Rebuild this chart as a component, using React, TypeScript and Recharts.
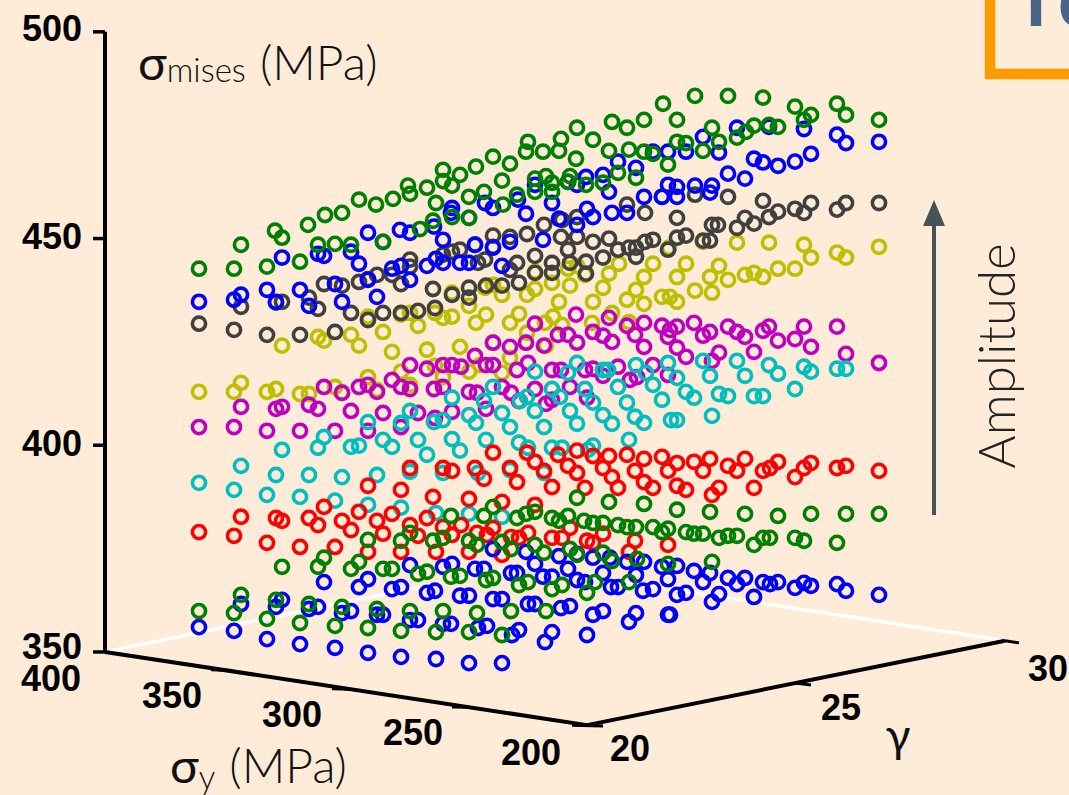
import React from 'react';
import { ScatterChart, Scatter, XAxis, YAxis, ReferenceLine } from 'recharts';

type Pt = [number, number];

// [horizontal position in the projected view, sigma_mises in MPa]
const olivePts: Pt[] = [[199,412.9],[234,412.9],[241,415.1],[267,412.9],[276,413.6],[282,424.1],[300,412.4],[309,412.4],[318,426.2],[324,425.3],[335,414.1],[342,412.7],[351,426.7],[359,424.1],[368,431.1],[368,416.5],[377,413.4],[383,427.4],[392,422.6],[401,417.8],[401,431.6],[410,432],[410,414.6],[418,428.9],[427,423.1],[435,419.2],[443,416.5],[460,423.8],[469,417.8],[480,419.4],[493,424.8],[510,421.1],[502,417.5],[526,424.8],[546,424.1],[435,432],[443,430.8],[452,431.1],[452,436.9],[469,433.7],[476,429.6],[486,431.6],[485,438.1],[493,438.8],[502,436.4],[510,429.6],[519,431.8],[527,436.4],[535,437.8],[535,442],[527,427.2],[545,429.6],[553,431.1],[552,439.3],[559,434.7],[562,429.1],[570,438.6],[568,442.7],[577,443.4],[585,441.2],[593,434.7],[592,429.6],[603,438.1],[609,441.5],[612,432],[619,443.9],[627,435.2],[629,429.8],[636,437.6],[644,434.2],[644,440.7],[653,443.9],[662,435.9],[669,447.8],[686,443.9],[677,440.7],[703,449.2],[710,440.7],[719,443.4],[728,440],[737,449],[745,441.2],[754,441.7],[763,440.7],[769,449],[778,442.7],[795,442.7],[804,448.5],[811,445.4],[837,446.6],[846,445.4],[879,448],[695,437.4],[712,436.9],[670,435.9],[677,434.7]];
const magentaPts: Pt[] = [[199,404.4],[234,404.4],[241,409.3],[267,403.5],[276,408.8],[282,409.3],[300,403.5],[309,409.8],[318,408.8],[324,414.1],[335,403.5],[342,412.7],[351,408.3],[359,414.1],[368,414.6],[368,403.5],[377,412.9],[383,407.8],[392,415.8],[401,414.1],[401,404.4],[410,413.6],[410,419.4],[418,407.8],[427,418.5],[434,413.6],[443,419.4],[452,419.4],[443,414.1],[461,419],[452,408.1],[469,412.9],[477,412.7],[475,421.6],[486,419.4],[493,419.4],[486,408.8],[493,424.8],[502,414.1],[511,412.7],[510,423.8],[517,418.2],[519,410.7],[526,424.8],[528,419.9],[535,413.6],[544,424.1],[546,410],[552,411],[552,418.2],[561,418.2],[558,426.7],[570,414.1],[577,424.8],[568,426.7],[585,418.2],[587,411.5],[593,418.5],[603,416.8],[593,427.4],[603,426.5],[612,425],[618,419],[630,415.8],[637,416.5],[635,426.7],[644,423.8],[653,419.4],[668,426.2],[668,417],[435,406.6],[535,429.4],[576,431.6],[609,430.8],[627,428.9],[644,429.6],[662,428.9],[670,427.9],[677,428.7],[694,429.6],[703,426.5],[710,427.4],[677,423.6],[686,421.4],[719,422.4],[712,420.4],[728,428.7],[737,427.4],[745,426.2],[754,422.6],[763,427.7],[769,428.7],[778,425.3],[795,425.7],[804,428.7],[811,423.8],[837,428.7],[846,422.1],[879,419.9]];
const cyanPts: Pt[] = [[199,390.9],[234,389.2],[241,395],[267,388],[276,392.8],[282,398.9],[300,387.5],[309,392.8],[318,399.4],[324,402],[335,386.6],[342,392.3],[351,399.6],[359,399.9],[368,385.6],[377,392.8],[383,401.3],[392,399.6],[401,384.9],[410,393.6],[418,401.3],[427,397.7],[368,405.6],[401,405.4],[410,408.3],[452,411.5],[443,406.1],[434,405.6],[452,401.5],[460,398.7],[469,407.3],[476,405.4],[484,410.7],[493,414.1],[486,401.3],[502,407.8],[510,404.4],[510,394],[478,393.3],[443,393.3],[519,400.6],[528,399.4],[520,410.7],[527,411.7],[535,417.8],[535,408.3],[544,404.4],[544,393.3],[552,399.4],[562,399.4],[552,413.6],[560,411.7],[568,417.5],[570,408.3],[577,419.9],[577,405.2],[585,413.6],[588,398.9],[593,399.9],[593,410.3],[603,418.2],[603,407.3],[612,405.2],[608,418.2],[618,414.1],[627,410.3],[629,401.3],[635,406.9],[636,419.4],[644,405.4],[646,417.5],[653,414.6],[662,411],[668,419.9],[436,383.6],[469,383.4],[502,382.7],[677,416.3],[686,412.9],[694,411.5],[703,420.4],[710,416.8],[719,412.4],[728,411.9],[737,420.4],[745,416.8],[754,411.9],[763,411.9],[769,419.4],[778,417.3],[795,413.6],[804,419],[811,417.8],[837,418.5],[846,418.5],[671,406.1],[677,406.1],[712,407.1]];
const redPts: Pt[] = [[199,379],[234,378.1],[241,382.7],[267,376.4],[276,382.4],[282,381.7],[300,375.4],[309,382.4],[318,380.7],[324,385.1],[335,375.4],[342,381.7],[351,379.5],[359,383.9],[368,374.2],[368,390.2],[377,381.7],[383,378.6],[392,383.4],[401,389.2],[401,374.2],[410,394.5],[410,380.7],[418,378.1],[427,382.4],[493,398.2],[527,398.2],[535,396],[544,393.8],[552,389.9],[558,397.7],[577,398.7],[568,395],[577,393.3],[585,389.7],[593,397.4],[609,397.4],[603,394.5],[612,392.3],[618,389.7],[627,397.7],[644,396.7],[635,393.8],[644,391.1],[653,389.7],[662,397.2],[668,393.8],[443,394.5],[452,393.8],[475,394.5],[484,391.9],[510,394.5],[517,391.1],[433,387.5],[469,387],[502,386.3],[535,385.6],[443,380.2],[461,380.7],[452,378.3],[436,374.2],[469,374.2],[477,378.8],[487,378.3],[493,380],[502,373.5],[511,377.8],[519,377.6],[528,378.8],[552,377.6],[562,377.6],[570,380],[587,376.9],[593,376.4],[603,378.6],[629,374.2],[635,376.9],[668,375.9],[677,395.7],[694,396],[703,393.8],[710,396.7],[728,395],[737,393.8],[745,396.7],[763,393.8],[770,394.5],[778,396],[795,392.3],[804,394.5],[811,395.7],[837,394.5],[846,395],[879,393.8],[677,390.2],[686,389.2],[712,388],[719,389.7],[754,389.7]];
const blueLowPts: Pt[] = [[199,356],[234,355.1],[241,361.6],[267,353.1],[276,360.9],[282,362.6],[300,351.9],[309,360.4],[318,360.9],[324,366.9],[335,351],[342,359.4],[351,359.9],[359,365.7],[368,367.6],[368,349.8],[377,359],[383,359],[392,365.2],[401,365.7],[401,348.8],[410,357.7],[410,371],[418,357.7],[427,364.3],[436,348.3],[469,347.3],[502,347.3],[545,352.4],[552,354.8],[587,354.1],[512,354.1],[519,355.3],[478,355.8],[487,356.3],[443,356.8],[451,356.8],[593,359],[603,359.9],[629,357.3],[636,359.4],[668,359],[561,360.6],[570,361.1],[528,361.6],[535,361.6],[493,362.8],[502,362.8],[460,363.6],[469,363.6],[435,364.8],[643,364.8],[653,365.2],[611,365.7],[618,365.7],[577,367.4],[585,366.9],[543,368.2],[552,368.2],[511,369.1],[517,369.1],[475,370.1],[484,370.1],[443,370.6],[452,371.3],[668,367.6],[662,370.6],[636,368.6],[603,369.1],[568,370.1],[535,371.3],[627,371.8],[593,372.8],[610,372.8],[559,373.2],[526,374.2],[493,374.9],[577,373.7],[644,371.8],[879,363.8],[846,364.8],[837,366.4],[811,366],[804,366.7],[795,365.5],[778,366.9],[770,366.4],[763,366.9],[754,363.3],[745,367.9],[737,366.4],[728,367.9],[719,364],[712,362.1],[710,369.1],[703,366.9],[694,369.6],[686,364.3],[677,363.8],[670,359],[677,370.8]];
const greenLowPts: Pt[] = [[199,359.9],[234,359.4],[241,363.8],[267,358],[276,362.6],[282,370.6],[300,357],[309,361.6],[318,370.6],[324,372.8],[335,356.3],[342,360.9],[351,370.1],[359,371.8],[368,355.8],[368,377.1],[377,360.4],[383,370.1],[392,370.1],[401,355.1],[401,376.9],[410,359.9],[410,378.8],[418,368.9],[427,369.4],[443,359.9],[477,359.4],[511,359.9],[546,359.9],[436,354.8],[469,354.8],[502,354.1],[451,368.2],[460,368.4],[486,367.4],[493,367.9],[519,366.2],[528,366.9],[552,365.2],[562,366.2],[587,364.3],[595,366.9],[629,366.9],[433,376.9],[443,377.6],[469,376.9],[477,375.9],[502,376.6],[511,374.9],[535,375.9],[544,374],[570,374.9],[577,373.5],[603,374],[612,372],[637,372.5],[668,371.3],[451,382.9],[484,382.9],[493,385.1],[517,382.4],[526,383.4],[535,383.9],[552,382.4],[559,381.7],[568,382.9],[584,381.7],[593,381.2],[603,381.2],[618,380.7],[627,380.2],[636,380.2],[653,380.2],[662,379],[668,379.8],[577,387.3],[609,386.3],[644,385.8],[677,384.4],[710,383.9],[745,383.4],[778,382.9],[811,383.4],[846,383.4],[879,383.4],[686,379],[694,378.6],[703,378.6],[719,377.6],[728,378.1],[737,378.1],[754,375.9],[763,377.6],[770,377.6],[795,377.6],[804,376.9],[837,376.4],[712,371.8]];
const grayPts: Pt[] = [[199,429.4],[234,427.9],[241,433.5],[267,426.7],[276,434.5],[282,434.7],[300,426.7],[309,435.7],[318,433],[324,439],[335,427.4],[342,438.6],[351,432],[359,439.5],[368,430.3],[368,440.2],[377,441.2],[383,432],[392,441.2],[401,439],[401,432],[410,444.9],[418,432.5],[433,437.8],[410,443.2],[435,433.2],[452,436.4],[469,438.1],[469,435.7],[486,438.6],[502,438.6],[519,439.3],[510,442.4],[517,444.1],[535,445.8],[552,444.1],[535,441.7],[552,441.7],[570,444.1],[586,444.4],[586,441.5],[603,445.4],[568,447.3],[561,450.4],[577,450.4],[593,449.2],[609,450],[618,447.3],[629,447.8],[636,447.8],[636,445.6],[645,449.2],[653,449.7],[668,447.3],[493,450.7],[510,450.4],[527,451.1],[544,453.3],[577,455.2],[627,458.2],[645,456.2],[662,460.1],[493,448],[485,444.9],[478,444.1],[460,447.3],[452,446.8],[443,446.1],[562,454.5],[475,448.5],[695,460.6],[728,460.1],[763,459.1],[795,457.2],[804,456.2],[811,458.6],[837,457],[846,458.6],[879,458.6],[778,456.5],[769,455.2],[754,453.6],[745,455],[737,452.6],[718,453.3],[712,453.3],[677,455],[686,450.7],[677,450.2],[703,449.5],[710,449.5]];
const blueUpPts: Pt[] = [[199,434.7],[234,435.2],[241,436.4],[267,437.6],[276,434.7],[282,445.4],[300,437.6],[309,433.7],[318,446.3],[324,445.8],[335,439],[342,434.7],[351,446.8],[359,443.9],[368,440],[377,435.9],[368,451.4],[383,449.2],[392,442.7],[401,443.4],[410,440],[427,443.4],[410,451.4],[400,452.1],[436,445.1],[443,444.1],[443,449.7],[452,457.4],[460,444.1],[469,444.1],[475,448.5],[493,447.8],[502,443.4],[485,458.6],[493,457.4],[510,449.2],[518,459.4],[526,456],[535,463],[543,449.7],[552,458.6],[559,454.8],[568,463.7],[577,463],[577,453.3],[586,464.9],[587,457.2],[593,455.2],[603,465.4],[609,461.3],[612,456.2],[618,468.6],[627,456.2],[636,467.1],[644,460.1],[653,471],[662,460.1],[668,463],[434,452.9],[451,456.2],[469,455],[668,471],[686,471],[703,474.6],[719,470.8],[737,476.8],[769,477],[804,476.5],[837,475.1],[846,473.1],[879,473.4],[754,469.3],[763,468.4],[778,467.6],[795,468.6],[811,470.5],[728,465.7],[745,464.5],[677,462.5],[695,462.8],[710,461.1],[712,462.8],[677,460.1]];
const greenUpPts: Pt[] = [[199,442.7],[234,442.7],[241,448.5],[267,443.2],[300,444.4],[282,450.2],[275,451.9],[318,448.5],[335,448.7],[351,448.5],[383,449.2],[308,453.3],[325,455.7],[342,456.2],[359,459.4],[376,458.2],[393,459.6],[408,462.8],[410,460.8],[427,462.3],[436,458.6],[433,454.3],[420,452.3],[443,466.6],[443,463.9],[452,462.8],[452,455.2],[460,465.4],[469,460.1],[469,455],[476,467.4],[484,461.3],[493,469.8],[502,464],[503,458.2],[510,468.1],[517,460.6],[526,471],[528,473.4],[535,464.5],[535,461.3],[543,471],[546,465.1],[552,463.5],[552,461.3],[559,471.2],[561,474.1],[568,463.7],[570,465.1],[577,476.8],[576,469.3],[586,463],[593,473.9],[603,463.5],[609,471.2],[612,478.2],[618,465.9],[627,476.8],[629,471.5],[636,464.7],[644,471],[644,478.7],[653,470.5],[668,467.9],[663,482.6],[695,484.5],[728,484.5],[763,484.1],[795,481.9],[811,479.9],[804,478.7],[837,482.6],[846,479.9],[879,478.7],[677,478.7],[712,476.8],[719,473.4],[703,471.2],[686,473.1],[677,473.4],[737,474.4],[746,475.8],[754,477.3],[769,477.5],[778,477]];

const mpaTicks = [350, 400, 450, 500];

// the drawn 3D frame, same units as the points
const floorLines: Pt[][] = [[[105, 350], [521, 370.8]], [[521, 370.8], [1005, 352.7]]];
const frameLines: Pt[][] = [
  [[105, 350], [105, 500]],
  [[105, 350], [587, 332.3]],
  [[587, 332.3], [1005, 352.7]],
  [[211, 345.7], [232, 345.5]],
  [[332, 341.1], [350, 341]],
  [[452, 336.7], [470, 336.6]],
  [[572, 332.3], [603, 332.1]],
  [[795, 342.5], [811, 342]],
  [[1005, 352.7], [1019, 352.2]],
];

const seriesList: { name: string; pts: Pt[]; color: string }[] = [
  { name: 'olive', pts: olivePts, color: '#bfbf00' },
  { name: 'magenta', pts: magentaPts, color: '#bf00bf' },
  { name: 'cyan', pts: cyanPts, color: '#00bfbf' },
  { name: 'red', pts: redPts, color: '#ff0000' },
  { name: 'blue low', pts: blueLowPts, color: '#0000ff' },
  { name: 'green low', pts: greenLowPts, color: '#008000' },
  { name: 'gray', pts: grayPts, color: '#404040' },
  { name: 'blue up', pts: blueUpPts, color: '#0000ff' },
  { name: 'green up', pts: greenUpPts, color: '#008000' },
];

const BG = '#feecd8';
const tickFont = { fontFamily: 'Liberation Sans, Arial, sans-serif', fontWeight: 700, fontSize: 36, fill: '#000' };
const titleFont = { fontFamily: 'Lato, sans-serif', fontWeight: 300, fill: '#111' };

const Ring = (color: string) => (props: any) => (
  <circle cx={props.cx} cy={props.cy} r={6.6} fill="none" stroke={color} strokeWidth={3.6} />
);

const MpaTick = (props: any) => {
  const v = props.payload.value;
  const dy = v === 350 ? -5 : v === 500 ? -3 : -2;
  return (
    <text x={82} y={props.y + dy} textAnchor="end" dominantBaseline="central" {...tickFont}>
      {v}
    </text>
  );
};

export default function App() {
  return (
    <div style={{ position: 'absolute', left: 0, top: 0, width: 1069, height: 795, background: BG, overflow: 'hidden' }}>
      <ScatterChart width={1069} height={795} margin={{ top: 0, right: 0, bottom: 0, left: 0 }}>
        <XAxis type="number" dataKey="x" domain={[105, 1069]} hide />
        <YAxis
          type="number"
          dataKey="y"
          width={105}
          domain={[315.4, 507.7]}
          ticks={mpaTicks}
          interval={0}
          axisLine={false}
          tickSize={12}
          tickLine={{ stroke: '#000', strokeWidth: 3.5 }}
          tick={MpaTick}
        />
        {floorLines.map((seg, i) => (
          <ReferenceLine
            key={'floor' + i}
            segment={seg.map(([x, y]) => ({ x, y }))}
            stroke="#fff"
            strokeWidth={3.5}
          />
        ))}
        {frameLines.map((seg, i) => (
          <ReferenceLine
            key={'frame' + i}
            segment={seg.map(([x, y]) => ({ x, y }))}
            stroke="#000"
            strokeWidth={i < 3 ? 4 : 3}
          />
        ))}
        {seriesList.map((s) => (
          <Scatter
            key={s.name}
            name={s.name}
            data={s.pts.map(([x, y]) => ({ x, y }))}
            shape={Ring(s.color)}
            isAnimationActive={false}
          />
        ))}

        {/* axis numbers that are not on the vertical axis */}
        <text x={51} y={678} textAnchor="middle" dominantBaseline="central" {...tickFont}>400</text>
        <text x={172} y={695} textAnchor="middle" dominantBaseline="central" {...tickFont}>350</text>
        <text x={292} y={714} textAnchor="middle" dominantBaseline="central" {...tickFont}>300</text>
        <text x={413} y={732} textAnchor="middle" dominantBaseline="central" {...tickFont}>250</text>
        <text x={531} y={752} textAnchor="middle" dominantBaseline="central" {...tickFont}>200</text>
        <text x={630} y={748} textAnchor="middle" dominantBaseline="central" {...tickFont}>20</text>
        <text x={841} y={707} textAnchor="middle" dominantBaseline="central" {...tickFont}>25</text>
        <text x={1048} y={668} textAnchor="middle" dominantBaseline="central" {...tickFont}>30</text>

        {/* titles */}
        <text x={138} y={80} {...titleFont} fontSize={48}>
          <tspan fontWeight={400}>σ</tspan>
          <tspan fontSize={33} dy={2}>mises</tspan>
          <tspan dy={-2} dx={14}>(MPa)</tspan>
        </text>
        <text x={170} y={783} {...titleFont} fontSize={48}>
          <tspan fontWeight={400}>σ</tspan>
          <tspan fontSize={33} dy={6}>y</tspan>
          <tspan dy={-6} dx={14}>(MPa)</tspan>
        </text>
        <text x={898} y={752} textAnchor="middle" {...titleFont} fontSize={46} fontWeight={400}>γ</text>
        <text transform="translate(1015,356) rotate(-90)" textAnchor="middle" {...titleFont} fontSize={51} fill="#222">Amplitude</text>

        {/* amplitude arrow */}
        <line x1={934} y1={515} x2={934} y2={222} stroke="#45525a" strokeWidth={4} />
        <polygon points="934,200 923,226 945,226" fill="#45525a" />

        {/* neighbouring panel, cut off by the crop */}
        <rect x={990} y={-30} width={200} height={104} fill="none" stroke="#ff9900" strokeWidth={10.5} />
        <text x={1014} y={26} fontFamily="Liberation Sans, Arial, sans-serif" fontWeight={700} fontSize={72} letterSpacing={5} fill="#4a6486">Te</text>
      </ScatterChart>
    </div>
  );
}
